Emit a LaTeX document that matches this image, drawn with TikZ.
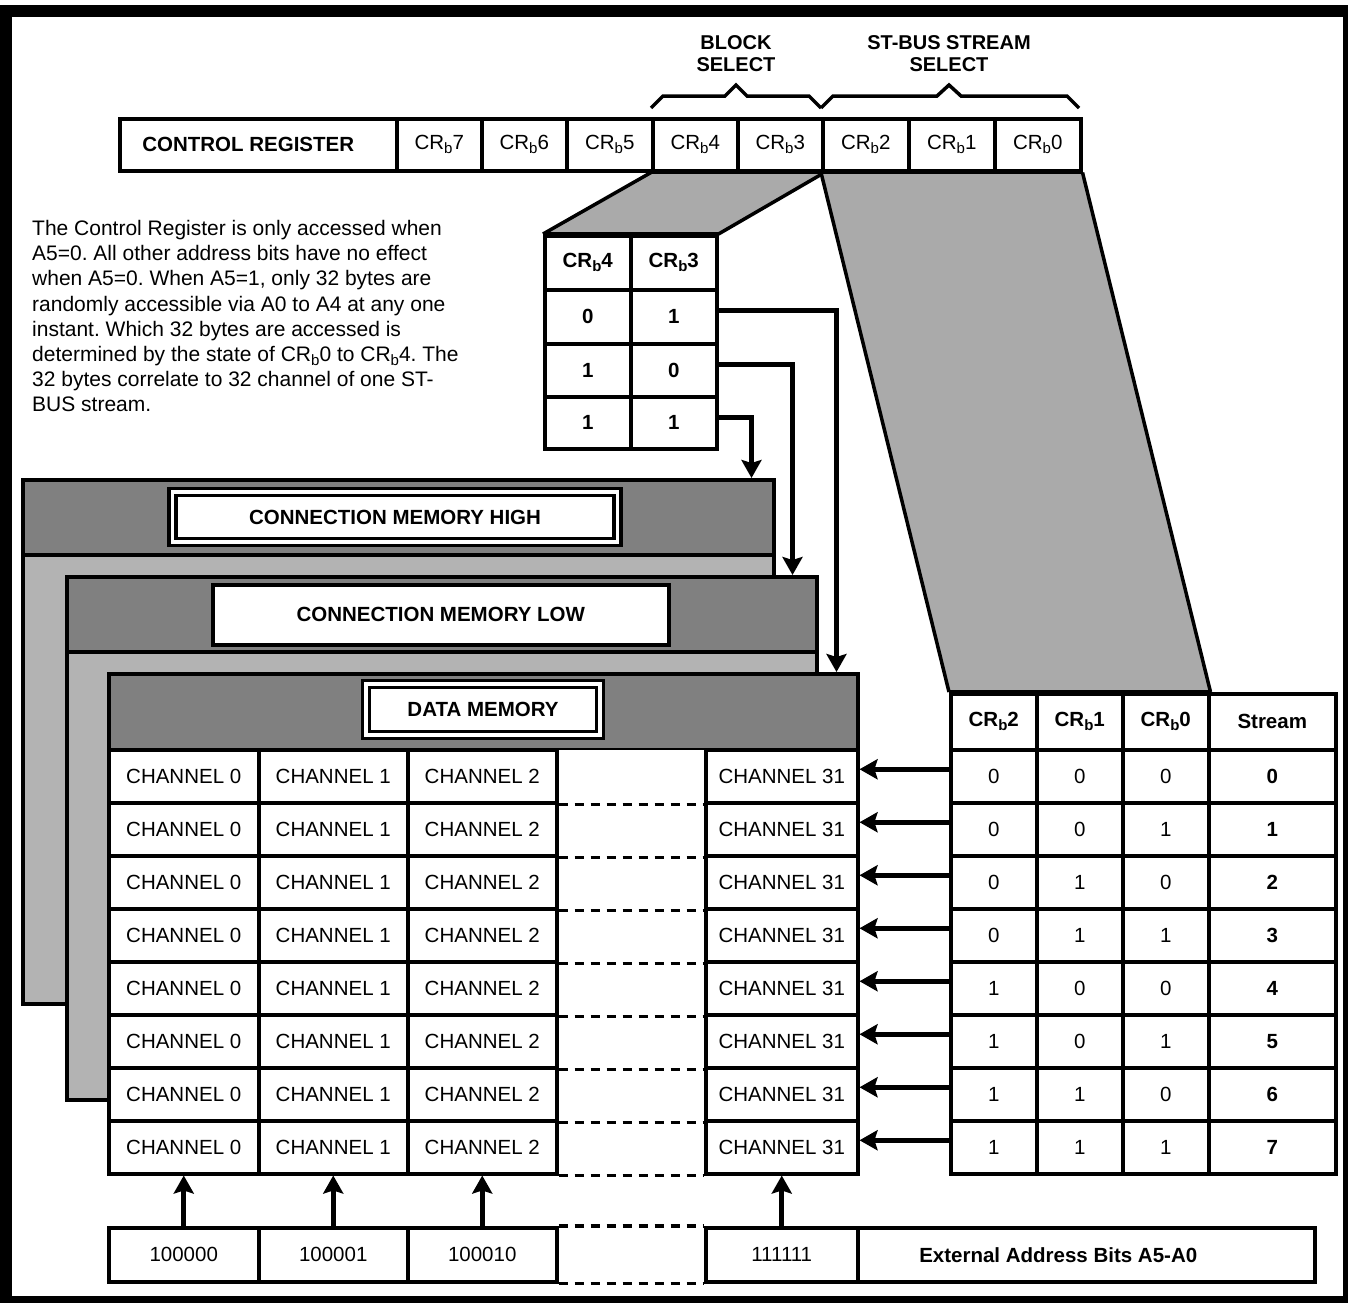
\documentclass[tikz,border=0pt]{standalone}
\usepackage{fontspec}
\setmainfont{Liberation Sans}
\usetikzlibrary{arrows.meta,calc}
\definecolor{hdr}{HTML}{808080}
\definecolor{bodyg}{HTML}{B3B3B3}
\definecolor{trap}{HTML}{AAAAAA}
\newcommand\CRb[1]{CR\raisebox{-4pt}{\fontsize{15}{15}\selectfont b}#1}
\newcommand\cellbox[7]{\node[#6, minimum width={#4-#2}, minimum height={#5-#3}, anchor=north west] (#1) at (#2,#3) {#7};}
\frenchspacing
\begin{document}
\begin{tikzpicture}[x=1pt,y=-1pt,
  txt/.style={font=\fontsize{20.5}{24}\selectfont},
  cell/.style={draw, line width=3.5pt, fill=white, inner sep=0pt, txt},
  bcell/.style={cell, font=\fontsize{20.5}{24}\selectfont\bfseries},
  pane/.style={draw, line width=3.5pt, fill=bodyg, inner sep=0pt},
  panehdr/.style={draw, line width=3.5pt, fill=hdr, inner sep=0pt},
  dbl/.style={draw, line width=3.5pt, double=white, double distance=3.5pt, fill=white, inner sep=0pt, font=\fontsize{20.5}{24}\selectfont\bfseries},
  edge/.style={line width=3.5pt},
  arr/.style={line width=5pt, -{Stealth[length=18pt,width=20pt,inset=3pt]}},
  dsh/.style={line width=3.5pt, dash pattern=on 9pt off 7pt}
]
\useasboundingbox (0,0) rectangle (1348,1302);
% outer frame
\draw[line width=12pt] (6,11) rectangle (1349,1302);

% explanatory text
\node[anchor=north west, inner sep=0pt, align=left, font=\fontsize{21}{25.2}\selectfont] (note) at (32,220)
{The Control Register is only accessed when\\
A5=0. All other address bits have no effect\\
when A5=0. When A5=1, only 32 bytes are\\
randomly accessible via A0 to A4 at any one\\
instant. Which 32 bytes are accessed is\\
determined by the state of \CRb{0} to \CRb{4}. The\\
32 bytes correlate to 32 channel of one ST-\\
BUS stream.};

% selector labels and braces
\node[align=center, inner sep=0pt, font=\fontsize{20}{22}\selectfont\bfseries, anchor=north] (blk) at (736,35) {BLOCK\\SELECT};
\node[align=center, inner sep=0pt, font=\fontsize{20}{22}\selectfont\bfseries, anchor=north] (stb) at (949,35) {ST-BUS STREAM\\SELECT};
\draw[edge] (651,108) -- (663,96) -- (725,96) -- (736,85) -- (747,96) -- (809,96) -- (821,108);
\draw[edge] (821,108) -- (833,96) -- (937,96) -- (949,85) -- (961,96) -- (1067,96) -- (1079,108);

% control register
\cellbox{creg}{118}{117}{395}{169}{bcell}{CONTROL REGISTER\hspace*{20pt}}
\cellbox{cr7}{395}{117}{480}{169}{cell}{\CRb{7}}
\cellbox{cr6}{480}{117}{565}{169}{cell}{\CRb{6}}
\cellbox{cr5}{565}{117}{651}{169}{cell}{\CRb{5}}
\cellbox{cr4}{651}{117}{736}{169}{cell}{\CRb{4}}
\cellbox{cr3}{736}{117}{821}{169}{cell}{\CRb{3}}
\cellbox{cr2}{821}{117}{907}{169}{cell}{\CRb{2}}
\cellbox{cr1}{907}{117}{993}{169}{cell}{\CRb{1}}
\cellbox{cr0}{993}{117}{1079}{169}{cell}{\CRb{0}}

% block select table
\cellbox{th4}{543}{234}{629}{288}{bcell}{\CRb{4}}
\cellbox{th3}{629}{234}{715}{288}{bcell}{\CRb{3}}
\cellbox{ra1}{543}{288}{629}{342}{bcell}{0}
\cellbox{rb1}{629}{288}{715}{342}{bcell}{1}
\cellbox{ra2}{543}{342}{629}{395}{bcell}{1}
\cellbox{rb2}{629}{342}{715}{395}{bcell}{0}
\cellbox{ra3}{543}{395}{629}{447}{bcell}{1}
\cellbox{rb3}{629}{395}{715}{447}{bcell}{1}

% stream table header
\cellbox{sh2}{949}{692}{1035}{748}{bcell}{\CRb{2}}
\cellbox{sh1}{1035}{692}{1121}{748}{bcell}{\CRb{1}}
\cellbox{sh0}{1121}{692}{1207}{748}{bcell}{\CRb{0}}
\cellbox{shs}{1207}{692}{1334}{748}{bcell}{Stream}

% projection trapezoids
\fill[trap] (cr4.south west) -- (cr3.south east) -- (th3.north east) -- (th4.north west) -- cycle;
\draw[edge] (cr4.south west) -- (th4.north west);
\draw[edge] (cr3.south east) -- (th3.north east);
\fill[trap] (cr2.south west) -- (cr0.south east) -- (sh0.north east) -- (sh2.north west) -- cycle;
\draw[edge] (cr2.south west) -- (sh2.north west);
\draw[edge] (cr0.south east) -- (sh0.north east);
% redraw borders over fill
\draw[edge] (cr4.south west) -- (cr0.south east);
\draw[edge] (th4.north west) -- (th3.north east);
\draw[edge] (sh2.north west) -- (sh0.north east);

% memory panes
\cellbox{cmh}{21}{478}{772}{1002}{pane}{}
\cellbox{cmhh}{21}{478}{772}{553}{panehdr}{}
\node[dbl, minimum width=445, minimum height=50] (cmhl) at (395,517) {CONNECTION MEMORY HIGH};
\cellbox{cml}{65}{575}{815}{1098}{pane}{}
\cellbox{cmlh}{65}{575}{815}{650}{panehdr}{}
\cellbox{cmll}{211}{583}{667}{643}{bcell}{CONNECTION MEMORY LOW}
\cellbox{dm}{107}{672}{856}{748}{panehdr}{}
\node[dbl, minimum width=234, minimum height=51] (dml) at (483,709.5) {DATA MEMORY};
\fill[white] (555,750) rectangle (704,1172);

% channel grid and stream rows
\foreach \r/\a/\b/\c in {0/0/0/0,1/0/0/1,2/0/1/0,3/0/1/1,4/1/0/0,5/1/0/1,6/1/1/0,7/1/1/1}{
  \pgfmathsetmacro\ya{748+53*\r}
  \pgfmathsetmacro\yb{\ya+53}
  \cellbox{ch\r-0}{107}{\ya}{257}{\yb}{cell}{CHANNEL 0}
  \cellbox{ch\r-1}{257}{\ya}{406}{\yb}{cell}{CHANNEL 1}
  \cellbox{ch\r-2}{406}{\ya}{555}{\yb}{cell}{CHANNEL 2}
  \cellbox{ch\r-4}{704}{\ya}{856}{\yb}{cell}{CHANNEL 31}
  \draw[dsh] (ch\r-2.south east) -- (ch\r-4.south west);
  \cellbox{s\r-2}{949}{\ya}{1035}{\yb}{cell}{\a}
  \cellbox{s\r-1}{1035}{\ya}{1121}{\yb}{cell}{\b}
  \cellbox{s\r-0}{1121}{\ya}{1207}{\yb}{cell}{\c}
  \cellbox{s\r-s}{1207}{\ya}{1334}{\yb}{bcell}{\r}
  \draw[arr] ([yshift=7pt]s\r-2.west) -- ([yshift=7pt]ch\r-4.east);
}

% address row
\cellbox{a0}{107}{1226}{257}{1280}{cell}{100000}
\cellbox{a1}{257}{1226}{406}{1280}{cell}{100001}
\cellbox{a2}{406}{1226}{555}{1280}{cell}{100010}
\cellbox{a4}{704}{1226}{856}{1280}{cell}{111111}
\cellbox{ext}{856}{1226}{1313}{1280}{bcell}{External Address Bits A5-A0\hspace*{56pt}}
\draw[dsh] (a2.north east) -- (a4.north west);
\draw[dsh] (a2.south east) -- (a4.south west);
\draw[arr] (a0.north) -- (ch7-0.south);
\draw[arr] (a1.north) -- (ch7-1.south);
\draw[arr] (a2.north) -- (ch7-2.south);
\draw[arr] (a4.north) -- (ch7-4.south);

% block select arrows
\draw[arr] ([yshift=6pt]rb1.east) -| ([xshift=-23pt]dm.north east);
\draw[arr] ([yshift=6pt]rb2.east) -| ([xshift=-26pt]cml.north east);
\draw[arr] ([yshift=5pt]rb3.east) -| ([xshift=-24pt]cmh.north east);
\end{tikzpicture}
\end{document}
